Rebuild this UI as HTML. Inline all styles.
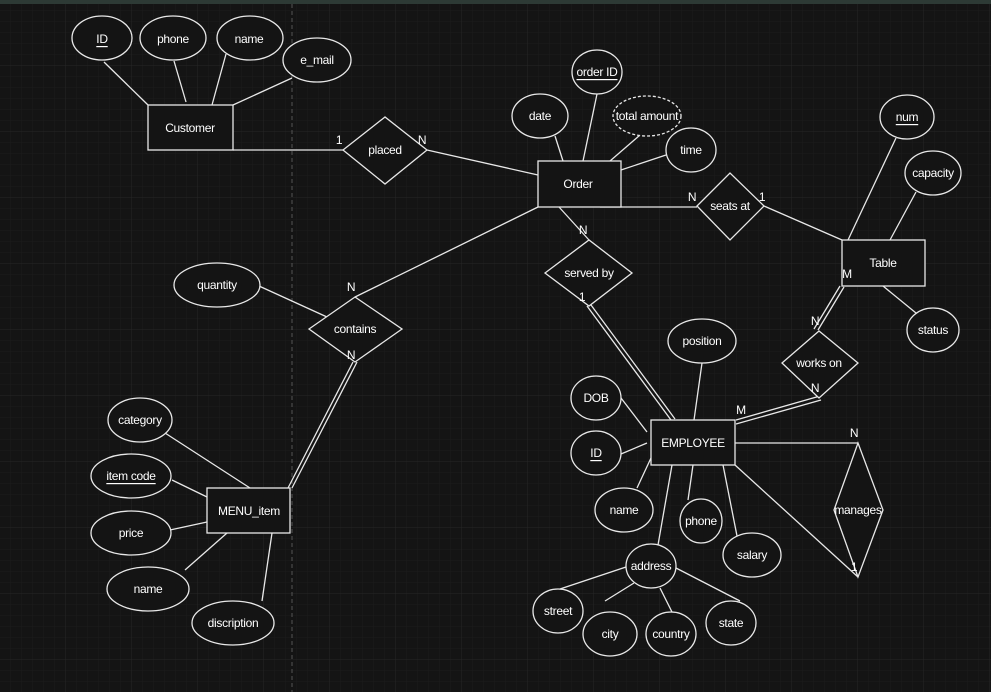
<!DOCTYPE html>
<html><head><style>
html,body{margin:0;padding:0;background:#141414;}
svg{display:block;}
text{font-family:"Liberation Sans",Arial,sans-serif;font-size:12px;fill:#fff;text-anchor:middle;dominant-baseline:central;letter-spacing:-0.3px;}
</style></head><body>
<svg width="991" height="692" viewBox="0 0 991 692" xmlns="http://www.w3.org/2000/svg">
<defs>
<pattern id="g" width="11" height="11" patternUnits="userSpaceOnUse"><path d="M11 0V11H0" fill="none" stroke="#1c1c1c" stroke-width="1"/></pattern>
<pattern id="G" width="66" height="66" patternUnits="userSpaceOnUse"><path d="M66 0V66H0" fill="none" stroke="#262626" stroke-width="1"/></pattern>
</defs>
<rect width="991" height="692" fill="#141414"/>
<rect width="991" height="692" fill="url(#g)"/>
<rect width="991" height="692" fill="url(#G)"/>
<rect width="991" height="4" fill="#2d3a35"/>
<line x1="292" y1="4" x2="292" y2="692" stroke="#555" stroke-dasharray="4,3"/>
<g stroke="#e8e8e8" stroke-width="1.3" fill="none">
<line x1="104" y1="62" x2="148" y2="105"/><line x1="174" y1="61" x2="186" y2="102"/><line x1="226" y1="54" x2="212" y2="105"/><line x1="292" y1="78" x2="233" y2="105"/>
<line x1="233" y1="150" x2="343" y2="150"/><line x1="427" y1="150" x2="538" y2="175"/>
<line x1="597" y1="94" x2="583" y2="161"/><line x1="555" y1="136" x2="563" y2="161"/><line x1="640" y1="135" x2="610" y2="161"/><line x1="666" y1="155" x2="621" y2="170"/>
<line x1="600" y1="207" x2="697" y2="207"/><line x1="764" y1="206" x2="842" y2="240"/>
<line x1="559" y1="207" x2="589" y2="240"/>
<line x1="538" y1="207" x2="355" y2="297"/>
<line x1="259" y1="286" x2="327" y2="317"/>
<line x1="896" y1="138" x2="848" y2="240"/><line x1="916" y1="192" x2="890" y2="240"/><line x1="916" y1="313" x2="883" y2="286"/>
<line x1="840" y1="286" x2="814" y2="329"/><line x1="844" y1="287" x2="818" y2="330"/>
<line x1="820" y1="396" x2="736" y2="420"/><line x1="821" y1="400" x2="736" y2="424"/>
<line x1="587" y1="306" x2="671" y2="420"/><line x1="591" y1="305" x2="675" y2="419"/>
<line x1="353" y1="362" x2="288" y2="488"/><line x1="357" y1="362" x2="292" y2="488"/>
<line x1="702" y1="363" x2="694" y2="420"/><line x1="621" y1="398" x2="647" y2="432"/><line x1="621" y1="454" x2="647" y2="443"/><line x1="637" y1="488" x2="651" y2="458"/>
<line x1="672" y1="465" x2="658" y2="545"/><line x1="693" y1="465" x2="688" y2="500"/><line x1="723" y1="465" x2="738" y2="541"/>
<line x1="735" y1="443" x2="858" y2="443"/><line x1="735" y1="465" x2="858" y2="577"/>
<line x1="626" y1="567" x2="560" y2="589"/><line x1="634" y1="583" x2="605" y2="601"/><line x1="660" y1="588" x2="672" y2="612"/><line x1="676" y1="568" x2="740" y2="601"/>
<line x1="165" y1="433" x2="250" y2="488"/><line x1="172" y1="480" x2="207" y2="497"/><line x1="170" y1="530" x2="207" y2="522"/><line x1="185" y1="570" x2="227" y2="533"/><line x1="262" y1="601" x2="272" y2="533"/>
</g>
<g stroke="#e8e8e8" stroke-width="1.3" fill="#141414">
<rect x="148" y="105" width="85" height="45"/>
<rect x="538" y="161" width="83" height="46"/>
<rect x="842" y="240" width="83" height="46"/>
<rect x="651" y="420" width="84" height="45"/>
<rect x="207" y="488" width="83" height="45"/>
<polygon points="343,150 385,117 427,150 385,184"/>
<polygon points="697,206 730,173 764,206 730,240"/>
<polygon points="782,363 819,331 858,363 819,398"/>
<polygon points="834,510 858,443 883,510 858,577"/>
<polygon points="545,273 589,240 632,273 589,306"/>
<polygon points="309,329 355,297 402,329 355,362"/>
<ellipse cx="102" cy="38" rx="30" ry="22"/><ellipse cx="173" cy="38" rx="33" ry="22"/><ellipse cx="250" cy="38" rx="33" ry="22"/><ellipse cx="317" cy="60" rx="34" ry="22"/>
<ellipse cx="597" cy="72" rx="25" ry="22"/><ellipse cx="540" cy="116" rx="28" ry="22"/><ellipse cx="647" cy="116" rx="34" ry="20" stroke-dasharray="3,2"/><ellipse cx="691" cy="150" rx="25" ry="22"/>
<ellipse cx="907" cy="117" rx="27" ry="22"/><ellipse cx="933" cy="173" rx="28" ry="22"/><ellipse cx="933" cy="330" rx="26" ry="22"/>
<ellipse cx="702" cy="341" rx="34" ry="22"/><ellipse cx="596" cy="398" rx="25" ry="22"/><ellipse cx="596" cy="453" rx="25" ry="22"/><ellipse cx="624" cy="510" rx="29" ry="22"/><ellipse cx="701" cy="521" rx="21" ry="22"/><ellipse cx="752" cy="555" rx="29" ry="22"/>
<ellipse cx="651" cy="566" rx="25" ry="22"/><ellipse cx="558" cy="611" rx="25" ry="22"/><ellipse cx="610" cy="634" rx="27" ry="22"/><ellipse cx="671" cy="634" rx="25" ry="22"/><ellipse cx="731" cy="623" rx="25" ry="22"/>
<ellipse cx="217" cy="285" rx="43" ry="22"/>
<ellipse cx="140" cy="420" rx="32" ry="22"/><ellipse cx="131" cy="476" rx="40" ry="22"/><ellipse cx="131" cy="533" rx="40" ry="22"/><ellipse cx="148" cy="589" rx="41" ry="22"/><ellipse cx="233" cy="623" rx="41" ry="22"/>
</g>
<text x="102" y="39" text-decoration="underline">ID</text><text x="173" y="39">phone</text><text x="249" y="39">name</text><text x="317" y="60">e_mail</text>
<text x="190" y="128">Customer</text><text x="385" y="150">placed</text>
<text x="339" y="140">1</text><text x="422" y="140">N</text>
<text x="597" y="72" text-decoration="underline">order ID</text><text x="540" y="116">date</text><text x="647" y="116">total amount</text><text x="691" y="150">time</text>
<text x="578" y="184">Order</text><text x="730" y="206">seats at</text><text x="692" y="197">N</text><text x="762" y="197">1</text>
<text x="907" y="117" text-decoration="underline">num</text><text x="933" y="173">capacity</text><text x="933" y="330">status</text><text x="883" y="263">Table</text>
<text x="847" y="274">M</text><text x="815" y="321">N</text><text x="819" y="363">works on</text><text x="815" y="388">N</text><text x="741" y="410">M</text>
<text x="693" y="443">EMPLOYEE</text><text x="854" y="433">N</text><text x="854" y="567">1</text><text x="858" y="510">manages</text>
<text x="702" y="341">position</text><text x="596" y="398">DOB</text><text x="596" y="453" text-decoration="underline">ID</text><text x="624" y="510">name</text><text x="701" y="521">phone</text><text x="752" y="555">salary</text>
<text x="651" y="566">address</text><text x="558" y="611">street</text><text x="610" y="634">city</text><text x="671" y="634">country</text><text x="731" y="623">state</text>
<text x="589" y="273">served by</text><text x="583" y="230">N</text><text x="582" y="297">1</text>
<text x="355" y="329">contains</text><text x="351" y="287">N</text><text x="351" y="355">N</text><text x="217" y="285">quantity</text>
<text x="249" y="511">MENU_item</text>
<text x="140" y="420">category</text><text x="131" y="476" text-decoration="underline">item code</text><text x="131" y="533">price</text><text x="148" y="589">name</text><text x="233" y="623">discription</text>
</svg>
</body></html>
